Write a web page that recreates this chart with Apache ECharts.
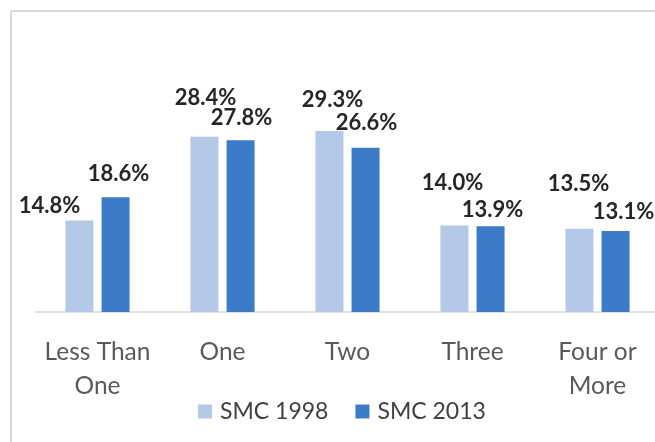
<!DOCTYPE html>
<html>
<head>
<meta charset="utf-8">
<script src="https://cdn.jsdelivr.net/npm/echarts@6/dist/echarts.min.js"></script>
<style>
  html, body { margin: 0; padding: 0; background: #fff; overflow: hidden; }
  #chart { width: 680px; height: 442px; }
</style>
</head>
<body>
<div id="chart"></div>
<script>
// data
const categories = ['Less Than\nOne', 'One', 'Two', 'Three', 'Four or\nMore'];
const smc1998 = [14.8, 28.4, 29.3, 14.0, 13.5];
const smc2013 = [18.6, 27.8, 26.6, 13.9, 13.1];
const seriesNames = ['SMC 1998', 'SMC 2013'];

// label nudges (the labels were dragged around by hand in the original)
const offsets1998 = [[-30, -5], [1, -29], [3, -21], [-2, -33], [-1, -35]];
const offsets2013 = [[3, -13], [1, -12], [1, -15], [2, -6], [8, -9]];

const FONT = 'Lato';

function withLabels (values, offsets) {
    return values.map((v, i) => ({
        value: v,
        label: { offset: offsets[i] }
    }));
}

const chart = echarts.init(document.getElementById('chart'));

const barLabel = {
    show: true,
    position: 'top',
    distance: 0,
    fontFamily: FONT,
    fontWeight: 'bold',
    fontSize: 22,
    lineHeight: 20,
    color: '#262626',
    formatter: p => p.value.toFixed(1) + '%'
};

const option = {
    animation: false,
    graphic: [{
        type: 'polyline',
        shape: { points: [[11, 442], [11, 11], [680, 11]] },
        style: { stroke: '#d9d9d9', lineWidth: 2, fill: null }
    }],
    grid: {
        left: 35,
        top: 65,
        width: 625,
        height: 247
    },
    legend: {
        data: seriesNames,
        left: 193,
        top: 395,
        icon: 'rect',
        itemWidth: 14,
        itemHeight: 14,
        itemGap: 27,
        textStyle: {
            fontFamily: FONT,
            fontSize: 23,
            color: '#404040',
            padding: [0, 0, 0, 3]
        }
    },
    xAxis: {
        type: 'category',
        data: categories,
        axisLine: { lineStyle: { color: '#d9d9d9', width: 1.5 } },
        axisTick: { show: false },
        axisLabel: {
            interval: 0,
            margin: 23,
            fontFamily: FONT,
            fontSize: 24.5,
            lineHeight: 34,
            color: '#595959'
        }
    },
    yAxis: {
        type: 'value',
        min: 0,
        max: 40,
        show: false,
        splitLine: { show: false }
    },
    series: [
        {
            name: seriesNames[0],
            type: 'bar',
            barWidth: 28,
            barGap: '29%',
            itemStyle: { color: '#b4c8e8' },
            label: barLabel,
            data: withLabels(smc1998, offsets1998)
        },
        {
            name: seriesNames[1],
            type: 'bar',
            barWidth: 28,
            barGap: '29%',
            itemStyle: { color: '#3b7bc8' },
            label: barLabel,
            data: withLabels(smc2013, offsets2013)
        }
    ]
};

chart.setOption(option);
</script>
</body>
</html>
